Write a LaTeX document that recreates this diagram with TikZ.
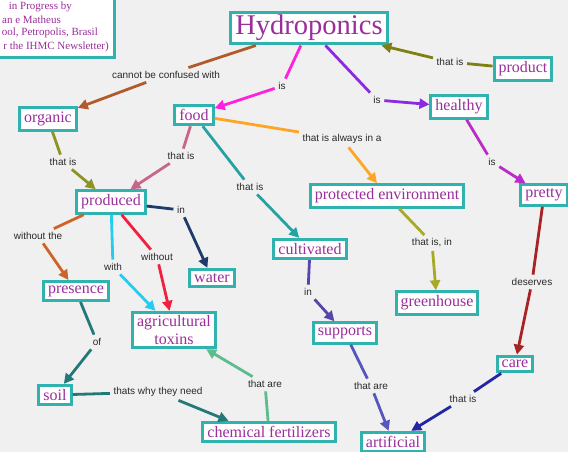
\documentclass[tikz,border=0pt]{standalone}
\usepackage{fontspec}
\setmainfont{Liberation Serif}
\newfontfamily\labelfont{Liberation Sans}
\usetikzlibrary{arrows.meta,calc}
\definecolor{bgc}{HTML}{F0F0F0}
\definecolor{boxc}{HTML}{30B2AE}
\definecolor{txtc}{HTML}{9A2E9A}
\definecolor{labc}{HTML}{2A2A2A}
\tikzset{
  concept/.style={draw=boxc, line width=3pt, fill=white, text=txtc,
    font=\fontsize{16}{18}\selectfont, inner xsep=4.5pt, inner ysep=4pt, align=center},
  lab/.style={text=labc, font=\labelfont\fontsize{10}{11}\selectfont, inner sep=3.5pt},
  conn/.style={line width=2.8pt},
  arr/.style={line width=2.8pt, -{Triangle[length=10pt,width=10pt]}},
}
\begin{document}
\begin{tikzpicture}[x=1pt,y=-1pt]
\useasboundingbox (0,0) rectangle (568,452);
\fill[bgc] (0,0) rectangle (568,452);
% top-left info box (cut off)
\node[draw=boxc, line width=3pt, fill=white, minimum width=160pt, minimum height=70pt] (info) at (34,23) {};
\begin{scope}[every node/.style={text=txtc, font=\fontsize{11}{12}\selectfont, inner sep=0pt, anchor=east}]
\node (i1) at (72,7) {in Progress by};
\node (i2) at (61,20) {an e Matheus};
\node (i3) at (98,33) {ool, Petropolis, Brasil};
\node (i4) at (109,47) {r the IHMC Newsletter)};
\end{scope}
% concepts
\node[concept, font=\fontsize{28.5}{30}\selectfont, inner ysep=3pt] (hyd) at (309,28) {Hydroponics};
\node[concept] (product) at (523,69) {product};
\node[concept] (healthy) at (459,107) {healthy};
\node[concept] (organic) at (48,119) {organic};
\node[concept] (food) at (194,115) {food};
\node[concept] (produced) at (111,202) {produced};
\node[concept] (protected) at (387,196) {protected environment};
\node[concept] (pretty) at (544,195) {pretty};
\node[concept] (cultivated) at (310,249) {cultivated};
\node[concept] (water) at (212,278) {water};
\node[concept] (presence) at (76,291) {presence};
\node[concept] (greenhouse) at (437,303) {greenhouse};
\node[concept, inner ysep=3pt] (toxins) at (174,330) {agricultural\\toxins};
\node[concept] (supports) at (345,333) {supports};
\node[concept] (care) at (515,364) {care};
\node[concept] (soil) at (55,395) {soil};
\node[concept] (chem) at (269,432) {chemical fertilizers};
\node[concept] (artificial) at (393,442) {artificial};
% labels
\node[lab] (l1) at (166,75) {cannot be confused with};
\node[lab] (l2) at (282,86) {is};
\node[lab] (l3) at (377,100) {is};
\node[lab] (l4) at (450,62) {that is};
\node[lab] (l5) at (63,162) {that is};
\node[lab] (l6) at (181,156) {that is};
\node[lab] (l7) at (342,139) {that is always in a};
\node[lab] (l8) at (250,187) {that is};
\node[lab] (l9) at (492,162) {is};
\node[lab] (l10) at (181,210) {in};
\node[lab] (l11) at (38,236) {without the};
\node[lab] (l12) at (113,267) {with};
\node[lab] (l13) at (157,257) {without};
\node[lab] (l14) at (432,243) {that is, in};
\node[lab] (l15) at (308,292) {in};
\node[lab] (l16) at (532,282) {deserves};
\node[lab] (l17) at (97,342) {of};
\node[lab] (l18) at (265,384) {that are};
\node[lab] (l19) at (158,392) {thats why they need};
\node[lab] (l20) at (371,386) {that are};
\node[lab] (l21) at (463,399) {that is};
\coordinate (chemin) at ($(chem.north west)!0.2!(chem.north east)$);
% connectors
\definecolor{c1}{HTML}{B35A2C}
\definecolor{c2}{HTML}{FF22DD}
\definecolor{c3}{HTML}{8A2BE2}
\definecolor{c4}{HTML}{7F7F12}
\definecolor{c5}{HTML}{8C9424}
\definecolor{c6}{HTML}{C8668A}
\definecolor{c7}{HTML}{FFA526}
\definecolor{c8}{HTML}{25A3A3}
\definecolor{c9}{HTML}{BB2BC8}
\definecolor{c10}{HTML}{1E3B6B}
\definecolor{c11}{HTML}{CC6428}
\definecolor{c12}{HTML}{26CCF0}
\definecolor{c13}{HTML}{F0203E}
\definecolor{c14}{HTML}{A8AA26}
\definecolor{c15}{HTML}{5546AE}
\definecolor{c16}{HTML}{A82424}
\definecolor{c17}{HTML}{237878}
\definecolor{c18}{HTML}{5CBC8C}
\definecolor{c19}{HTML}{5656BC}
\definecolor{c20}{HTML}{2424A6}
\draw[conn,c1] (hyd) -- (l1); \draw[arr,c1] (l1) -- (organic);
\draw[conn,c2] (hyd) -- (l2); \draw[arr,c2] (l2) -- (food);
\draw[conn,c3] (hyd) -- (l3); \draw[arr,c3] (l3) -- (healthy);
\draw[conn,c4] (product) -- (l4); \draw[arr,c4] (l4) -- (hyd);
\draw[conn,c5] (organic) -- (l5); \draw[arr,c5] (l5) -- (produced);
\draw[conn,c6] (food) -- (l6); \draw[arr,c6] (l6) -- (produced);
\draw[conn,c7] (food) -- (l7); \draw[arr,c7] (l7) -- (protected);
\draw[conn,c8] (food) -- (l8); \draw[arr,c8] (l8) -- (cultivated);
\draw[conn,c9] (healthy) -- (l9); \draw[arr,c9] (l9) -- (pretty);
\draw[conn,c10] (produced) -- (l10); \draw[arr,c10] (l10) -- (water);
\draw[conn,c11] (produced) -- (l11); \draw[arr,c11] (l11) -- (presence);
\draw[conn,c12] (produced) -- (l12); \draw[arr,c12] (l12) -- (toxins);
\draw[conn,c13] (produced) -- (l13); \draw[arr,c13] (l13) -- (toxins);
\draw[conn,c14] (protected) -- (l14); \draw[arr,c14] (l14) -- (greenhouse);
\draw[conn,c15] (cultivated) -- (l15); \draw[arr,c15] (l15) -- (supports);
\draw[conn,c16] (pretty) -- (l16); \draw[arr,c16] (l16) -- (care);
\draw[conn,c17] (presence) -- (l17); \draw[arr,c17] (l17) -- (soil);
\draw[conn,c18] (chem) -- (l18); \draw[arr,c18] (l18) -- (toxins);
\draw[conn,c17] (soil) -- (l19); \draw[arr,c17] (l19) -- (chemin);
\draw[conn,c19] (supports) -- (l20); \draw[arr,c19] (l20) -- (artificial);
\draw[conn,c20] (care) -- (l21); \draw[arr,c20] (l21) -- (artificial);
\end{tikzpicture}
\end{document}
